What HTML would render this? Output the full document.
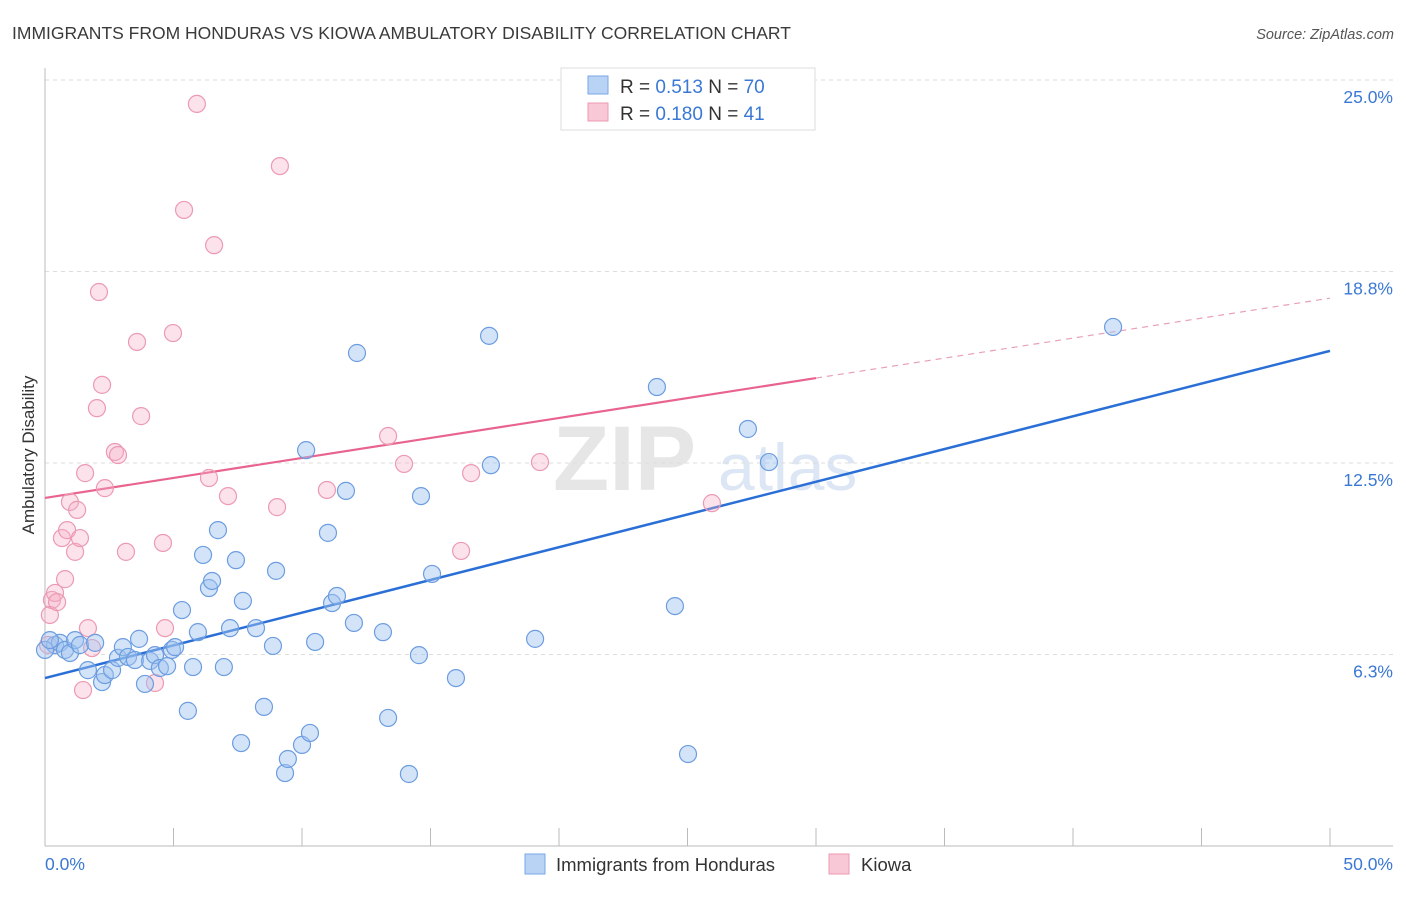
<!DOCTYPE html>
<html><head><meta charset="utf-8"><style>
body{margin:0;background:#fff;font-family:"Liberation Sans",sans-serif}
svg text{font-family:"Liberation Sans",sans-serif}
</style></head><body>
<svg id="chart" width="1406" height="892" xmlns="http://www.w3.org/2000/svg">
<text x="12" y="39" font-size="17.5" fill="#3a3a3a">IMMIGRANTS FROM HONDURAS VS KIOWA AMBULATORY DISABILITY CORRELATION CHART</text>
<text x="1394" y="39" font-size="14.5" fill="#555" font-style="italic" text-anchor="end">Source: ZipAtlas.com</text>
<g>
<text x="553" y="490" font-size="92" fill="#e6e6e6" font-family="Liberation Serif" font-weight="bold">ZIP</text>
<text x="718" y="490" font-size="66" fill="#dce6f4">atlas</text>
</g>
<g id="grid"></g>
<g id="axes"></g>
<g id="trends"></g>
<g id="pts"></g>
<text transform="translate(34,455) rotate(-90)" font-size="17" fill="#333" text-anchor="middle">Ambulatory Disability</text>
<g>
<rect x="561" y="68" width="254" height="62" fill="#fff" stroke="#ddd"/>
<rect x="588" y="76" width="20" height="18" fill="#b9d3f5" stroke="#7aa6e6"/>
<rect x="588" y="103" width="20" height="18" fill="#f8c8d6" stroke="#ec9ab2"/>
<text x="620" y="93" font-size="19" fill="#333">R = <tspan fill="#3a78d4">0.513</tspan>   N = <tspan fill="#3a78d4">70</tspan></text>
<text x="620" y="120" font-size="19" fill="#333">R = <tspan fill="#3a78d4">0.180</tspan>   N = <tspan fill="#3a78d4"> 41</tspan></text>
</g>
<g>
<rect x="525" y="854" width="20" height="20" fill="#b9d3f5" stroke="#7aa6e6"/>
<text x="556" y="871" font-size="18.5" fill="#333">Immigrants from Honduras</text>
<rect x="829" y="854" width="20" height="20" fill="#f8c8d6" stroke="#ec9ab2"/>
<text x="861" y="871" font-size="18.5" fill="#333">Kiowa</text>
</g>
</svg>
<script>
const blueX=[0.39,0.58,0.78,0.97,1.17,1.36,1.67,1.95,2.22,2.33,2.61,2.84,3.03,3.23,3.50,3.66,3.89,4.09,4.28,4.47,4.75,4.94,5.06,5.33,5.56,5.76,5.95,6.15,6.38,6.50,6.73,6.96,7.20,7.43,7.63,7.70,8.21,8.52,8.87,8.99,9.34,9.45,10.0,10.16,10.31,10.51,11.01,11.17,11.36,11.71,12.02,12.14,13.15,13.35,14.16,14.55,14.63,15.06,15.99,17.28,17.35,19.07,23.81,24.51,25.02,27.35,28.17,41.56,0.0,0.19];
const blueY=[6.56,6.63,6.40,6.30,6.72,6.56,5.74,6.63,5.35,5.58,5.74,6.14,6.49,6.17,6.07,6.76,5.29,6.04,6.23,5.81,5.87,6.40,6.49,7.70,4.41,5.84,6.98,9.50,8.42,8.65,10.31,5.84,7.11,9.33,3.36,8.00,7.11,4.54,6.53,8.98,2.38,2.84,3.30,12.92,3.69,6.66,10.22,7.93,8.16,11.59,7.28,16.09,6.98,4.18,2.35,6.23,11.42,8.88,5.48,16.65,12.43,6.76,14.98,7.83,3.00,13.61,12.53,16.94,6.40,6.72];
const pinkX=[0.19,0.27,0.39,0.47,0.12,0.66,0.78,0.86,0.97,1.17,1.25,1.36,1.56,1.48,1.67,1.83,2.02,2.10,2.22,2.33,2.72,2.84,3.15,3.58,3.74,4.28,4.59,4.67,4.98,5.41,5.91,6.38,6.58,7.12,9.03,9.14,10.97,13.35,13.97,16.19,16.58,19.26,25.95];
const pinkY=[7.54,8.03,8.26,7.96,6.56,10.05,8.71,10.31,11.23,9.60,10.97,10.05,12.17,5.09,7.11,6.46,14.29,18.08,15.05,11.68,12.86,12.76,9.60,16.45,14.03,5.32,9.89,7.11,16.74,20.76,24.22,12.01,19.61,11.42,11.06,22.19,11.62,13.38,12.47,9.63,12.17,12.53,11.19];
const yTicks=[6.25,12.5,18.75,25];
const yTickLabels=["6.3%","12.5%","18.8%","25.0%"];
const xTicks=[0,5,10,15,20,25,30,35,40,45,50];
const blueTrend=[5.48,16.16];   // y at x=0, y at x=50
const pinkTrend=[11.36,17.88];  // y at x=0, y at x=50
const pinkSolidEnd=30;
const NS="http://www.w3.org/2000/svg";
const X0=45,X1=1330,Y0=846,PX_PER=30.64;
const sx=v=>X0+(v/50)*(X1-X0);
const sy=v=>Y0-v*PX_PER;
function mk(tag,attrs,parent){const e=document.createElementNS(NS,tag);for(const k in attrs)e.setAttribute(k,attrs[k]);parent.appendChild(e);return e;}
const grid=document.getElementById('grid'),axes=document.getElementById('axes'),tr=document.getElementById('trends'),pts=document.getElementById('pts');
yTicks.forEach((t,i)=>{
 const l=mk('line',{x1:X0,x2:1393,y1:sy(t),y2:sy(t),stroke:'#ddd','stroke-dasharray':'4,4'},grid);
 
 
 const tx=mk('text',{x:1393,y:sy(t)+23,'font-size':'17.5',fill:'#3a78d4','text-anchor':'end'},axes);
 tx.textContent=yTickLabels[i];
 
 
});
const tg=mk('line',{x1:X0,x2:1393,y1:80,y2:80,stroke:'#ddd','stroke-dasharray':'4,4'},grid);


const ya=mk('line',{x1:X0,x2:X0,y1:68,y2:846,stroke:'#bbb'},axes);


const xa=mk('line',{x1:X0,x2:1393,y1:846,y2:846,stroke:'#bbb'},axes);


xTicks.forEach(t=>{
 const l=mk('line',{x1:sx(t),x2:sx(t),y1:828,y2:846,stroke:'#bbb'},axes);
 
 
});
const xl0=mk('text',{x:X0,y:870,'font-size':'17.5',fill:'#3a78d4'},axes);xl0.textContent='0.0%';


const xl1=mk('text',{x:1393,y:870,'font-size':'17.5',fill:'#3a78d4','text-anchor':'end'},axes);xl1.textContent='50.0%';


pinkX.forEach((x,i)=>{
 const c=mk('circle',{cx:sx(x),cy:sy(pinkY[i]),r:8.5,fill:'rgba(246,175,197,0.35)',stroke:'#ec9ab2','stroke-width':1.2},pts);
 
 
});
blueX.forEach((x,i)=>{
 const c=mk('circle',{cx:sx(x),cy:sy(blueY[i]),r:8.5,fill:'rgba(160,195,240,0.45)',stroke:'#6c9de0','stroke-width':1.2},pts);
 
 
});
const py=x=>pinkTrend[0]+(pinkTrend[1]-pinkTrend[0])*x/50;
const p1=mk('line',{x1:sx(0),y1:sy(py(0)),x2:sx(pinkSolidEnd),y2:sy(py(pinkSolidEnd)),stroke:'#e8648e','stroke-width':2.2},tr);


const p2=mk('line',{x1:sx(pinkSolidEnd),y1:sy(py(pinkSolidEnd)),x2:sx(50),y2:sy(py(50)),stroke:'#e8a0b8','stroke-width':1.2,'stroke-dasharray':'6,5'},tr);


const b1=mk('line',{x1:sx(0),y1:sy(blueTrend[0]),x2:sx(50),y2:sy(blueTrend[1]),stroke:'#2a6fd6','stroke-width':2.5},tr);


</script>
</body></html>
